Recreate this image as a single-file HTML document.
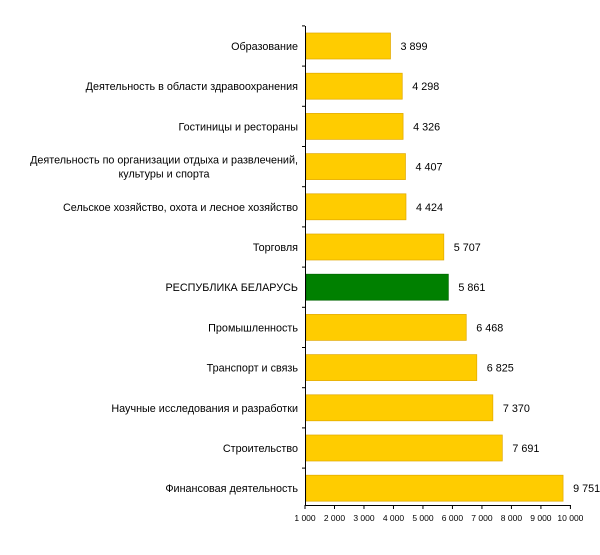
<!DOCTYPE html>
<html><head><meta charset="utf-8"><style>
html,body{margin:0;padding:0;background:#fff;width:600px;height:555px;overflow:hidden}
svg text{font-family:"Liberation Sans",Arial,sans-serif;font-size:10.8px;fill:#000}
</style></head><body>
<svg width="600" height="555" xmlns="http://www.w3.org/2000/svg">
<g id="bars"></g>
<line x1="305.5" y1="26" x2="305.5" y2="505" stroke="#000"/>
<line x1="305" y1="505.5" x2="571" y2="505.5" stroke="#000"/>
<g id="t"></g>
</svg>
<script>
const data=[["Образование",3899],["Деятельность в области здравоохранения",4298],["Гостиницы и рестораны",4326],["Деятельность по организации отдыха и развлечений,|культуры и спорта",4407],["Сельское хозяйство, охота и лесное хозяйство",4424],["Торговля",5707],["РЕСПУБЛИКА БЕЛАРУСЬ",5861],["Промышленность",6468],["Транспорт и связь",6825],["Научные исследования и разработки",7370],["Строительство",7691],["Финансовая деятельность",9751]];
const ns="http://www.w3.org/2000/svg";
const g=document.getElementById("bars"),t=document.getElementById("t");
function el(p,n,a,txt){const e=document.createElementNS(ns,n);for(const k in a)e.setAttribute(k,a[k]);if(txt)e.textContent=txt;p.appendChild(e);return e;}
const X=v=>305+(v-1000)*0.02949;
data.forEach((d,i)=>{
 const c=46+i*40.2;
 const green=i==6;
 el(g,"rect",{x:306,y:c-13,width:X(d[1])-306,height:26,fill:green?"#008000":"#FFCC00",stroke:green?"#006600":"#E0A800","stroke-width":0.7});
 const v=String(d[1]).replace(/(\d)(\d{3})$/,"$1 $2");
 el(t,"text",{x:X(d[1])+10,y:c+4},v);
 const parts=d[0].split("|");
 if(parts.length==1) el(t,"text",{x:298,y:c+4,"text-anchor":"end"},parts[0]);
 else{el(t,"text",{x:298,y:c-3,"text-anchor":"end"},parts[0]);el(t,"text",{x:164,y:c+11,"text-anchor":"middle"},parts[1]);}
 el(t,"line",{x1:302,x2:305,y1:c-20.1,y2:c-20.1,stroke:"#000"});
});
for(let k=1;k<=10;k++){const x=X(k*1000);el(t,"line",{x1:x,x2:x,y1:505,y2:509,stroke:"#000"});
 const e=el(t,"text",{x:x,y:521,"text-anchor":"middle"},(k==10?"10 000":k+" 000"));e.style.fontSize="8.5px";}
</script>
</body></html>
